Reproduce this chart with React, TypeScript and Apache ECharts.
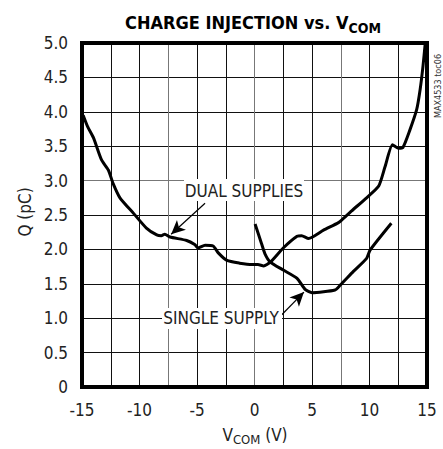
import React, { useEffect, useRef } from "react";
import * as echarts from "echarts";

const dualV = [-14.9, -14.5, -14.0, -13.3, -12.7, -12.3, -11.7, -10.5, -9.4, -8.5, -8.1, -7.8, -7.35, -5.9, -5.2, -4.9, -4.3, -3.6, -3.15, -2.4, -1.3, -0.2, 0.3, 0.8, 1.35, 2.5, 3.7, 4.1, 4.7, 6.0, 7.3, 7.6, 8.45, 9.75, 10.8, 11.35, 12.0, 12.5, 12.9, 13.5, 14.1, 14.4, 14.65, 14.85];
const dualQ = [3.95, 3.78, 3.62, 3.30, 3.15, 2.96, 2.75, 2.52, 2.31, 2.21, 2.20, 2.22, 2.18, 2.13, 2.07, 2.02, 2.06, 2.05, 1.95, 1.84, 1.80, 1.78, 1.78, 1.76, 1.81, 2.02, 2.19, 2.20, 2.16, 2.28, 2.39, 2.43, 2.56, 2.75, 2.92, 3.20, 3.52, 3.47, 3.48, 3.73, 4.03, 4.32, 4.66, 5.0];

const singleV = [0.05, 0.6, 0.9, 1.35, 2.5, 3.7, 4.4, 5.0, 7.0, 7.45, 8.6, 9.75, 10.05, 11.9];
const singleQ = [2.37, 2.09, 1.94, 1.82, 1.70, 1.58, 1.42, 1.37, 1.41, 1.48, 1.68, 1.87, 1.99, 2.38];

const dualArrow = [[-4.3, 2.67], [-7.25, 2.22]];
const singleArrow = [[2.37, 1.05], [4.3, 1.38]];

const FONT = "'Liberation Sans Narrow', 'DejaVu Sans Condensed', 'Roboto Condensed', sans-serif";

export default function App() {
  const ref = useRef<HTMLDivElement>(null);
  useEffect(() => {
    if (!ref.current) return;
    const chart = echarts.init(ref.current, null, { renderer: "svg" });
    const dual = dualV.map((v, i) => [v, dualQ[i]]);
    const single = singleV.map((v, i) => [v, singleQ[i]]);
    chart.setOption({
      animation: false,
      backgroundColor: "#fff",
      textStyle: { fontFamily: FONT },
      grid: {
        left: 82,
        right: 16,
        top: 43,
        bottom: 62,
        show: true,
        borderWidth: 4,
        borderColor: "#000",
        backgroundColor: "transparent",
        z: 3,
      },
      xAxis: {
        type: "value",
        min: -15,
        max: 15,
        interval: 2.5,
        axisLine: { show: false },
        axisTick: { show: false },
        axisLabel: {
          margin: 14,
          fontSize: 17,
          color: "#222",
          fontFamily: FONT,
          formatter: (v: number) => (Math.abs(v % 5) < 1e-9 ? String(v) : ""),
        },
        splitLine: { show: true, lineStyle: { color: ["#777", "#111", "#111"], width: 1 } },
      },
      yAxis: {
        type: "value",
        min: 0,
        max: 5,
        interval: 0.5,
        axisLine: { show: false },
        axisTick: { show: false },
        axisLabel: {
          margin: 14,
          fontSize: 17,
          color: "#222",
          fontFamily: FONT,
          formatter: (v: number) => (v === 0 ? "0" : v.toFixed(1)),
        },
        splitLine: { show: true, lineStyle: { color: ["#777", "#111", "#111", "#111", "#111", "#111"], width: 1 } },
      },
      series: [
        {
          type: "line",
          data: dual,
          showSymbol: false,
          smooth: 0.2,
          lineStyle: { color: "#000", width: 3 },
          z: 4,
          markLine: {
            silent: true,
            symbol: ["none", "arrow"],
            symbolSize: [10, 14],
            label: { show: false },
            lineStyle: { color: "#000", width: 1.2, type: "solid" },
            data: [[{ coord: dualArrow[0] }, { coord: dualArrow[1] }]],
          },
        },
        {
          type: "line",
          data: single,
          showSymbol: false,
          smooth: 0.2,
          lineStyle: { color: "#000", width: 3 },
          z: 4,
          markLine: {
            silent: true,
            symbol: ["none", "arrow"],
            symbolSize: [10, 14],
            label: { show: false },
            lineStyle: { color: "#000", width: 1.2, type: "solid" },
            data: [[{ coord: singleArrow[0] }, { coord: singleArrow[1] }]],
          },
        },
      ],
      graphic: [
        {
          type: "text",
          x: 253,
          y: 20,
          z: 10,
          style: {
            text: "{a|CHARGE INJECTION vs. V}{b|COM}",
            align: "center",
            verticalAlign: "middle",
            fill: "#000",
            rich: {
              a: { fontSize: 18, fontWeight: "bold", fontFamily: FONT, fill: "#000", lineHeight: 22, verticalAlign: "bottom" },
              b: { fontSize: 14, fontWeight: "bold", fontFamily: FONT, fill: "#000", lineHeight: 22, verticalAlign: "bottom", padding: [0, 0, -4, 0] },
            },
          },
        },
        {
          type: "text",
          x: 255,
          y: 433,
          z: 10,
          style: {
            text: "{a|V}{b|COM}{a| (V)}",
            align: "center",
            verticalAlign: "middle",
            fill: "#222",
            rich: {
              a: { fontSize: 17, fontFamily: FONT, fill: "#222", lineHeight: 20, verticalAlign: "bottom" },
              b: { fontSize: 13, fontFamily: FONT, fill: "#222", lineHeight: 20, verticalAlign: "bottom", padding: [0, 0, -3, 0] },
            },
          },
        },
        {
          type: "text",
          x: 25,
          y: 212,
          rotation: Math.PI / 2,
          z: 10,
          style: {
            text: "Q (pC)",
            align: "center",
            verticalAlign: "middle",
            fontSize: 17,
            fontFamily: FONT,
            fill: "#222",
          },
        },
        {
          type: "text",
          x: 438,
          y: 86,
          rotation: Math.PI / 2,
          z: 10,
          style: {
            text: "MAX4533 toc06",
            align: "center",
            verticalAlign: "middle",
            fontSize: 9,
            fontFamily: FONT,
            fill: "#333",
          },
        },
        {
          type: "rect",
          z: 10,
          shape: { x: 184, y: 179, width: 120, height: 22 },
          style: { fill: "#fff" },
        },
        {
          type: "text",
          x: 244,
          y: 191,
          z: 11,
          style: {
            text: "DUAL SUPPLIES",
            align: "center",
            verticalAlign: "middle",
            fontSize: 17,
            fontFamily: FONT,
            fill: "#222",
          },
        },
        {
          type: "rect",
          z: 10,
          shape: { x: 162, y: 308, width: 120, height: 21 },
          style: { fill: "#fff" },
        },
        {
          type: "text",
          x: 221,
          y: 318,
          z: 11,
          style: {
            text: "SINGLE SUPPLY",
            align: "center",
            verticalAlign: "middle",
            fontSize: 17,
            fontFamily: FONT,
            fill: "#222",
          },
        },
      ],
    });
    return () => chart.dispose();
  }, []);
  return <div ref={ref} style={{ width: 443, height: 449, position: "absolute", left: 0, top: 0 }} />;
}
